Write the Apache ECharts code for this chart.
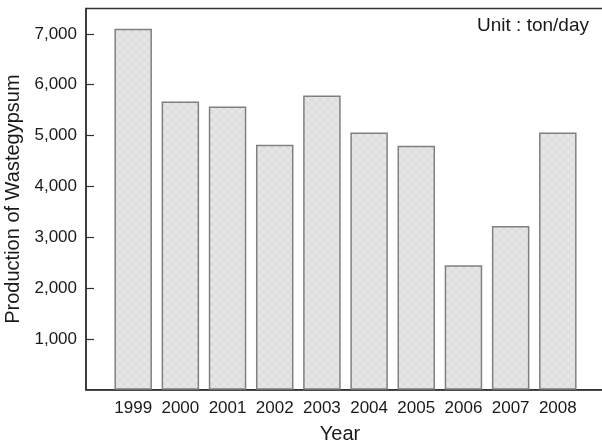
<!DOCTYPE html>
<html>
<head>
<meta charset="utf-8">
<script src="https://cdn.jsdelivr.net/npm/echarts@6/dist/echarts.min.js"></script>
<style>html,body{margin:0;padding:0;background:#fff}#c{width:602px;height:448px}</style>
</head>
<body>
<div id="c"></div>
<script>
var years = [1999, 2000, 2001, 2002, 2003, 2004, 2005, 2006, 2007, 2008];
var production = [7100, 5670, 5570, 4820, 5790, 5060, 4800, 2450, 3220, 5060];
var yTicks = [1000, 2000, 3000, 4000, 5000, 6000, 7000];

function makePattern() {
  var cv = document.createElement('canvas');
  cv.width = 8; cv.height = 8;
  var g = cv.getContext('2d');
  g.fillStyle = '#dfdfdf';
  g.fillRect(0, 0, 8, 8);
  g.strokeStyle = '#ebebeb';
  g.lineWidth = 1;
  g.beginPath();
  g.moveTo(0, 0); g.lineTo(8, 8);
  g.moveTo(8, 0); g.lineTo(0, 8);
  g.stroke();
  return cv;
}

var font = "'Liberation Sans', Arial, sans-serif";
var chart = echarts.init(document.getElementById('c'), null, {renderer: 'canvas'});
chart.setOption({
  animation: false,
  backgroundColor: '#fff',
  grid: {left: 86, top: 8.5, right: -3, bottom: 58.3, outerBoundsMode: 'none', containLabel: false,
         show: true, borderColor: '#333', borderWidth: 1.5, backgroundColor: 'transparent'},
  xAxis: {
    type: 'value', min: 1998, max: 2009, interval: 1,
    name: 'Year', nameLocation: 'middle', nameGap: 35,
    nameTextStyle: {fontFamily: font, fontSize: 20, color: '#1a1a1a', padding: [0, 11, 0, 0]},
    axisLine: {show: true, lineStyle: {color: '#333', width: 1.5}},
    axisTick: {show: false},
    splitLine: {show: false},
    axisLabel: {
      fontFamily: font, fontSize: 17, color: '#1a1a1a', margin: 10,
      formatter: function (v) { return years.indexOf(v) >= 0 ? String(v) : ''; }
    }
  },
  yAxis: {
    type: 'value', min: 0, max: 7500, interval: 1000,
    name: 'Production of Wastegypsum', nameLocation: 'middle', nameGap: 58,
    nameTextStyle: {fontFamily: font, fontSize: 20, color: '#1a1a1a'},
    axisLine: {show: true, lineStyle: {color: '#333', width: 1.5}},
    axisTick: {show: true, inside: true, length: 8, lineStyle: {color: '#333', width: 1.2}, customValues: yTicks},
    splitLine: {show: false},
    axisLabel: {
      fontFamily: font, fontSize: 17, color: '#1a1a1a', margin: 9,
      customValues: yTicks,
      formatter: function (v) { return yTicks.indexOf(v) >= 0 ? v.toLocaleString('en-US') : ''; }
    }
  },
  graphic: [{
    type: 'text', right: 13, top: 16,
    style: {text: 'Unit : ton/day', font: '19px ' + font, fill: '#1a1a1a'}
  }],
  series: [{
    type: 'bar',
    barWidth: 37.5,
    data: years.map(function (y, i) { return [y, production[i]]; }),
    itemStyle: {
      color: {image: makePattern(), repeat: 'repeat'},
      borderColor: '#808080', borderWidth: 1.5
    }
  }]
});
</script>
</body>
</html>
